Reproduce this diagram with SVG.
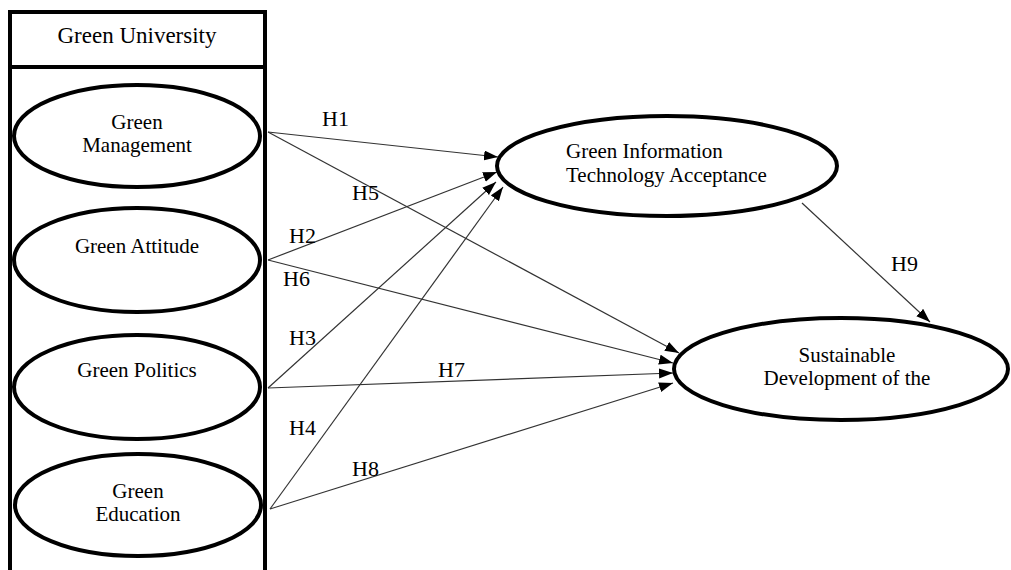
<svg xmlns="http://www.w3.org/2000/svg" width="1011" height="570" viewBox="0 0 1011 570">
<style>
text{font-family:"Liberation Serif","Noto Serif","DejaVu Serif",serif;fill:#000}
.n{font-size:21px}
.h{font-size:22px}
.t{font-size:23px}
.e{fill:#fff;stroke:#000;stroke-width:4}
.c{fill:none;stroke:#333;stroke-width:1.2}
</style>
<defs>
<marker id="a" markerUnits="userSpaceOnUse" markerWidth="15" markerHeight="11" refX="14" refY="5" orient="auto">
<path d="M0,0 L14,5 L0,10 z" fill="#000"/>
</marker>
</defs>
<rect width="1011" height="570" fill="#fff"/>
<g id="green-university">
<rect x="10" y="12" width="255" height="580" fill="none" stroke="#000" stroke-width="4"/>
<line x1="10" y1="67" x2="265" y2="67" stroke="#000" stroke-width="4"/>
<text class="t" x="137" y="43" text-anchor="middle">Green University</text>
</g>
<g id="green-management">
<ellipse class="e" cx="137" cy="136" rx="123" ry="51"/>
<text class="n" x="137" y="129" text-anchor="middle">Green</text>
<text class="n" x="137" y="152" text-anchor="middle">Management</text>
</g>
<g id="green-attitude">
<ellipse class="e" cx="137" cy="260" rx="123" ry="52"/>
<text class="n" x="137" y="253" text-anchor="middle">Green Attitude</text>
</g>
<g id="green-politics">
<ellipse class="e" cx="137" cy="387" rx="123" ry="52"/>
<text class="n" x="137" y="377" text-anchor="middle">Green Politics</text>
</g>
<g id="green-education">
<ellipse class="e" cx="138" cy="505" rx="123" ry="51"/>
<text class="n" x="138" y="498" text-anchor="middle">Green</text>
<text class="n" x="138" y="521" text-anchor="middle">Education</text>
</g>
<g id="gita">
<ellipse class="e" cx="667" cy="166" rx="170" ry="50"/>
<text class="n" x="566" y="158">Green Information</text>
<text class="n" x="566" y="182">Technology Acceptance</text>
</g>
<g id="sustainable">
<ellipse class="e" cx="841" cy="369" rx="167" ry="51"/>
<text class="n" x="847" y="362" text-anchor="middle">Sustainable</text>
<text class="n" x="847" y="385" text-anchor="middle">Development of the</text>
</g>
<g id="connectors">
<line class="c" x1="268" y1="132" x2="498" y2="157" marker-end="url(#a)"/>
<line class="c" x1="268" y1="132" x2="679" y2="353" marker-end="url(#a)"/>
<line class="c" x1="268" y1="260" x2="497" y2="172" marker-end="url(#a)"/>
<line class="c" x1="268" y1="260" x2="673" y2="363" marker-end="url(#a)"/>
<line class="c" x1="268" y1="388" x2="496" y2="182" marker-end="url(#a)"/>
<line class="c" x1="268" y1="388" x2="673" y2="373" marker-end="url(#a)"/>
<line class="c" x1="270" y1="509" x2="503" y2="187" marker-end="url(#a)"/>
<line class="c" x1="270" y1="509" x2="673" y2="383" marker-end="url(#a)"/>
<line class="c" x1="802" y1="203" x2="930" y2="322" marker-end="url(#a)"/>
<text class="h" x="322" y="126">H1</text>
<text class="h" x="352" y="200">H5</text>
<text class="h" x="289" y="243">H2</text>
<text class="h" x="283" y="286">H6</text>
<text class="h" x="289" y="345">H3</text>
<text class="h" x="438" y="377">H7</text>
<text class="h" x="289" y="435">H4</text>
<text class="h" x="352" y="476">H8</text>
<text class="h" x="891" y="271">H9</text>
</g>
</svg>
